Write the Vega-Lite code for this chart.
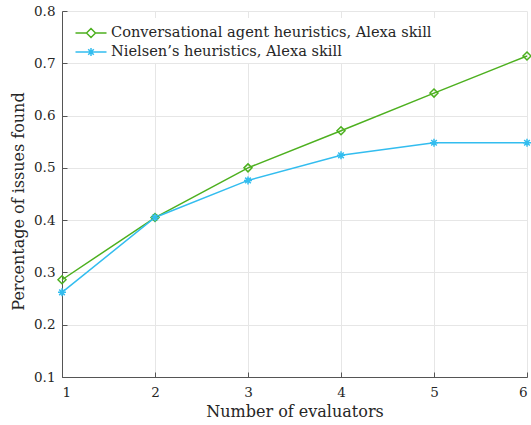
{
  "$schema": "https://vega.github.io/schema/vega-lite/v6.json",
  "width": 465,
  "height": 366,
  "autosize": "none",
  "padding": {"left": 62, "top": 11, "right": 4, "bottom": 48},
  "background": "white",
  "config": {
    "view": {"stroke": null},
    "font": "DejaVu Serif",
    "axis": {
      "domainColor": "#555555",
      "domainWidth": 1,
      "tickColor": "#555555",
      "tickSize": -5,
      "tickWidth": 1,
      "gridColor": "#e6e6e6",
      "gridWidth": 1,
      "labelFont": "DejaVu Serif",
      "labelFontSize": 13.5,
      "labelColor": "#262626",
      "titleFont": "DejaVu Serif",
      "titleFontSize": 16,
      "titleFontWeight": "normal",
      "titleColor": "#262626"
    },
    "legend": {
      "labelFont": "DejaVu Serif",
      "labelFontSize": 14.6,
      "labelColor": "#262626",
      "labelLimit": 0
    }
  },
  "data": {
    "values": [
      {"evaluators": 1, "pct": 0.286, "series": "Conversational agent heuristics, Alexa skill"},
      {"evaluators": 2, "pct": 0.405, "series": "Conversational agent heuristics, Alexa skill"},
      {"evaluators": 3, "pct": 0.5, "series": "Conversational agent heuristics, Alexa skill"},
      {"evaluators": 4, "pct": 0.571, "series": "Conversational agent heuristics, Alexa skill"},
      {"evaluators": 5, "pct": 0.643, "series": "Conversational agent heuristics, Alexa skill"},
      {"evaluators": 6, "pct": 0.714, "series": "Conversational agent heuristics, Alexa skill"},
      {"evaluators": 1, "pct": 0.262, "series": "Nielsen’s heuristics, Alexa skill"},
      {"evaluators": 2, "pct": 0.405, "series": "Nielsen’s heuristics, Alexa skill"},
      {"evaluators": 3, "pct": 0.476, "series": "Nielsen’s heuristics, Alexa skill"},
      {"evaluators": 4, "pct": 0.524, "series": "Nielsen’s heuristics, Alexa skill"},
      {"evaluators": 5, "pct": 0.548, "series": "Nielsen’s heuristics, Alexa skill"},
      {"evaluators": 6, "pct": 0.548, "series": "Nielsen’s heuristics, Alexa skill"}
    ]
  },
  "encoding": {
    "x": {
      "field": "evaluators",
      "type": "quantitative",
      "scale": {"domain": [1, 6], "nice": false, "zero": false},
      "axis": {"values": [1, 2, 3, 4, 5, 6], "format": "d", "title": "Number of evaluators", "labelPadding": 13, "titlePadding": 5}
    },
    "y": {
      "field": "pct",
      "type": "quantitative",
      "scale": {"domain": [0.1, 0.8], "nice": false, "zero": false},
      "axis": {"values": [0.1, 0.2, 0.3, 0.4, 0.5, 0.6, 0.7, 0.8], "format": ".1f", "title": "Percentage of issues found", "labelPadding": 12, "titlePadding": 7, "titleY": 190}
    }
  },
  "layer": [
    {
      "mark": {"type": "line", "strokeWidth": 1.5},
      "encoding": {
        "color": {
          "field": "series",
          "type": "nominal",
          "scale": {
            "domain": ["Conversational agent heuristics, Alexa skill", "Nielsen’s heuristics, Alexa skill"],
            "range": ["#4db01f", "#33bdef"]
          },
          "legend": {
            "title": null,
            "orient": "none",
            "legendX": 14,
            "legendY": 7,
            "padding": 4,
            "fillColor": "white",
            "symbolSize": 400,
            "symbolStrokeWidth": 1.5,
            "symbolFillColor": "transparent",
            "labelOffset": 9,
            "rowPadding": 0,
            "encode": {
              "symbols": {
                "update": {
                  "shape": {"signal": "datum.value == 'Conversational agent heuristics, Alexa skill' ? 'M-1.55,0L-0.45,0M0.45,0L1.55,0M-0.45,0L0,-0.45L0.45,0L0,0.45Z' : 'M-1.55,0L1.55,0M0,-0.4L0,0.4M-0.28,-0.28L0.28,0.28M-0.28,0.28L0.28,-0.28'"},
                  "fill": {"value": "transparent"}
                }
              }
            }
          }
        }
      }
    },
    {
      "transform": [{"filter": "datum.series == 'Conversational agent heuristics, Alexa skill'"}],
      "mark": {"type": "point", "filled": false, "strokeWidth": 1.5, "size": 64, "opacity": 1, "color": "#4db01f", "shape": "M0,-1L1,0L0,1L-1,0Z"}
    },
    {
      "transform": [{"filter": "datum.series != 'Conversational agent heuristics, Alexa skill'"}],
      "mark": {"type": "point", "filled": false, "strokeWidth": 1.5, "size": 64, "opacity": 1, "color": "#33bdef", "shape": "M-1,0L1,0M0,-1L0,1M-0.7,-0.7L0.7,0.7M-0.7,0.7L0.7,-0.7"}
    }
  ]
}
